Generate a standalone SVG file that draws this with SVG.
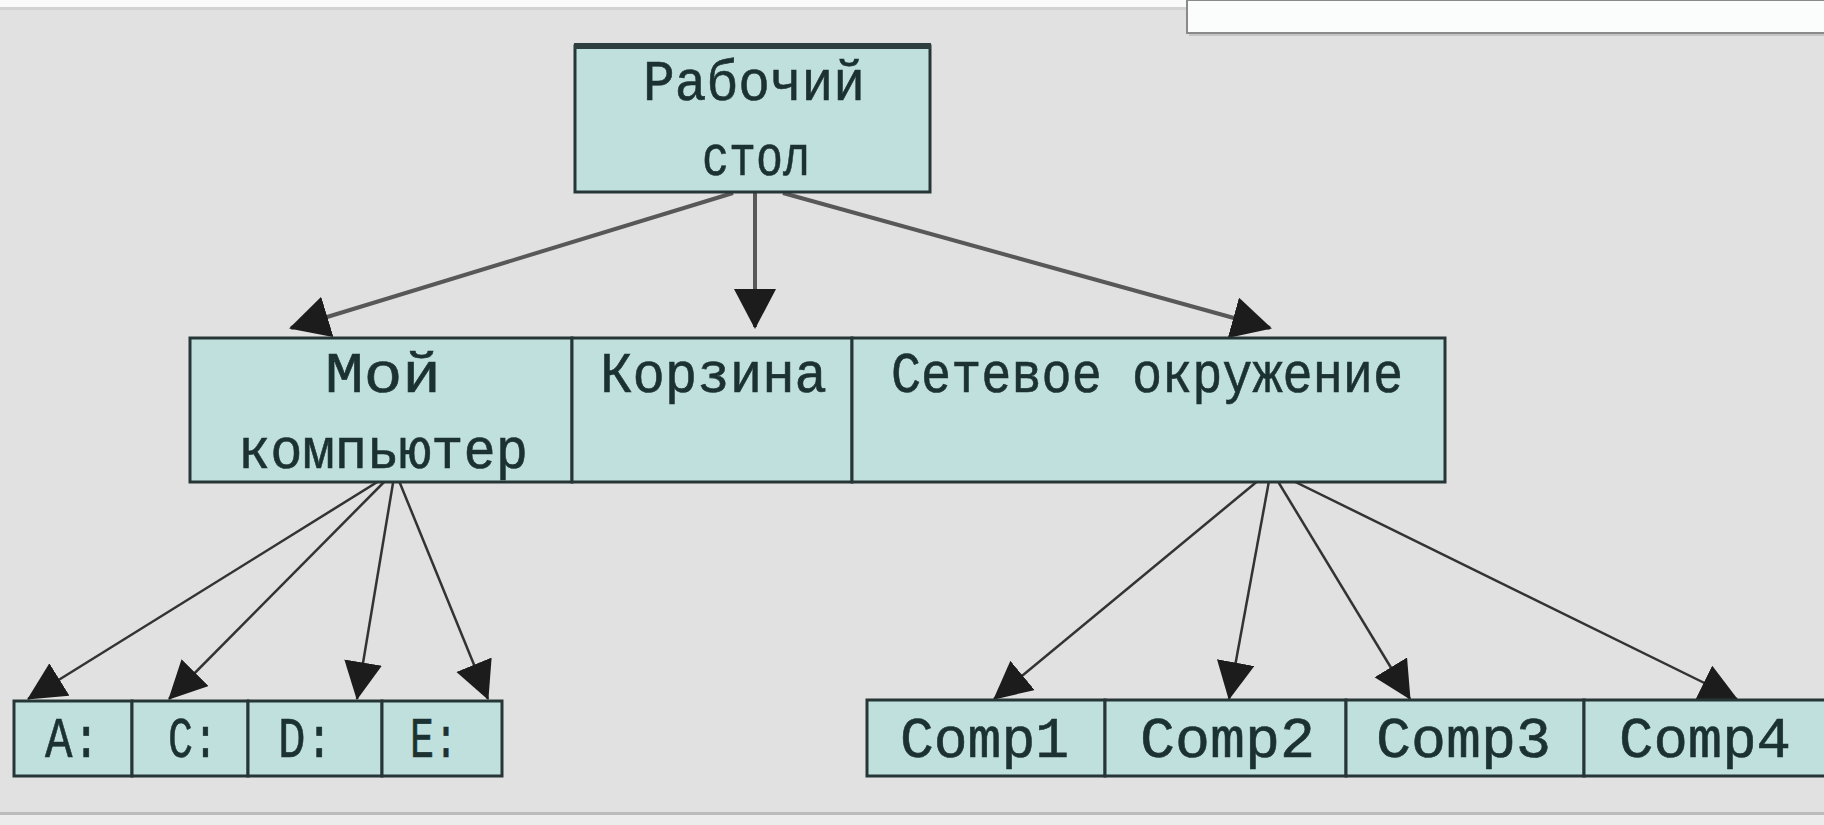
<svg xmlns="http://www.w3.org/2000/svg" width="1824" height="825" viewBox="0 0 1824 825">
<style>
.bg{fill:#e1e1e1}
.cell{fill:#c0e0de;stroke:#263636;stroke-width:3}
.t{font-family:"Liberation Mono","DejaVu Sans Mono",monospace;font-size:57px;fill:#1c3232;text-anchor:middle;stroke:#1c3232;stroke-width:0.6}
.big{stroke:#585858;stroke-width:4;fill:none}
.thin{stroke:#333;stroke-width:2.5;fill:none}
</style>
<defs>
<marker id="ah" markerUnits="userSpaceOnUse" markerWidth="42" markerHeight="44" refX="38" refY="21" orient="auto" viewBox="0 0 42 44">
<path d="M0,0 L40,21 L0,42 z" fill="#1c1c1c"/>
</marker>
<marker id="ahs" markerUnits="userSpaceOnUse" markerWidth="40" markerHeight="40" refX="37" refY="19" orient="auto" viewBox="0 0 40 40">
<path d="M0,0 L38,19 L0,38 z" fill="#1c1c1c"/>
</marker>
</defs>
<rect class="bg" x="0" y="0" width="1824" height="825"/>
<rect x="0" y="0" width="1824" height="7" fill="#fafafa"/>
<rect x="0" y="7" width="1824" height="3" fill="#c8c8c8" opacity="0.6"/>
<rect x="1187" y="0" width="640" height="33" fill="#fbfcfc" stroke="#8a8a8a" stroke-width="2"/>
<rect x="1189" y="34" width="640" height="2" fill="#c4c4c4"/>
<rect x="0" y="812" width="1824" height="3" fill="#bcbcbc"/>
<rect x="0" y="815" width="1824" height="10" fill="#ececec"/>

<g id="connectors">
<line class="big" x1="733" y1="193" x2="291" y2="328" marker-end="url(#ah)"/>
<line class="big" x1="755" y1="193" x2="755" y2="327" marker-end="url(#ah)"/>
<line class="big" x1="783" y1="193" x2="1270" y2="328" marker-end="url(#ah)"/>
<line class="thin" x1="395" y1="471" x2="28" y2="699" marker-end="url(#ahs)"/>
<line class="thin" x1="395" y1="471" x2="169" y2="699" marker-end="url(#ahs)"/>
<line class="thin" x1="395" y1="471" x2="357" y2="699" marker-end="url(#ahs)"/>
<line class="thin" x1="395" y1="471" x2="488" y2="699" marker-end="url(#ahs)"/>
<line class="thin" x1="1271" y1="470" x2="994" y2="699" marker-end="url(#ahs)"/>
<line class="thin" x1="1271" y1="470" x2="1229" y2="699" marker-end="url(#ahs)"/>
<line class="thin" x1="1271" y1="470" x2="1410" y2="699" marker-end="url(#ahs)"/>
<line class="thin" x1="1271" y1="470" x2="1737" y2="699" marker-end="url(#ahs)"/>
</g>

<g id="desktop">
<rect class="cell" x="575" y="46" width="355" height="146"/>
<rect x="574" y="43" width="357" height="6" fill="#2f3f3f"/>
<text class="t" x="754" y="100" textLength="222" lengthAdjust="spacingAndGlyphs">Рабочий</text>
<text class="t" x="756" y="175" textLength="108" lengthAdjust="spacingAndGlyphs">стол</text>
</g>

<g id="mycomputer">
<rect class="cell" x="190" y="338" width="382" height="144"/>
<text class="t" x="383" y="392" textLength="116" lengthAdjust="spacingAndGlyphs">Мой</text>
<text class="t" x="383" y="468" textLength="290" lengthAdjust="spacingAndGlyphs">компьютер</text>
</g>
<g id="recycle">
<rect class="cell" x="572" y="338" width="280" height="144"/>
<text class="t" x="713.5" y="392" textLength="227" lengthAdjust="spacingAndGlyphs">Корзина</text>
</g>
<g id="network">
<rect class="cell" x="852" y="338" width="593" height="144"/>
<text class="t" x="1147" y="392" textLength="512" lengthAdjust="spacingAndGlyphs">Сетевое окружение</text>
</g>

<g id="driveA">
<rect class="cell" x="14" y="701" width="118" height="75"/>
<text class="t" x="72.5" y="757" textLength="55" lengthAdjust="spacingAndGlyphs">A:</text>
</g>
<g id="driveC">
<rect class="cell" x="132" y="701" width="116" height="75"/>
<text class="t" x="193" y="757" textLength="50" lengthAdjust="spacingAndGlyphs">C:</text>
</g>
<g id="driveD">
<rect class="cell" x="248" y="701" width="134" height="75"/>
<text class="t" x="305.5" y="757" textLength="55" lengthAdjust="spacingAndGlyphs">D:</text>
</g>
<g id="driveE">
<rect class="cell" x="382" y="701" width="120" height="75"/>
<text class="t" x="434" y="757" textLength="48" lengthAdjust="spacingAndGlyphs">E:</text>
</g>

<g id="comp1">
<rect class="cell" x="867" y="700" width="238" height="76"/>
<text class="t" x="984.5" y="757" textLength="169" lengthAdjust="spacingAndGlyphs">Comp1</text>
</g>
<g id="comp2">
<rect class="cell" x="1105" y="700" width="241" height="76"/>
<text class="t" x="1227.5" y="757" textLength="175" lengthAdjust="spacingAndGlyphs">Comp2</text>
</g>
<g id="comp3">
<rect class="cell" x="1346" y="700" width="238" height="76"/>
<text class="t" x="1463.5" y="757" textLength="175" lengthAdjust="spacingAndGlyphs">Comp3</text>
</g>
<g id="comp4">
<rect class="cell" x="1584" y="700" width="245" height="76"/>
<text class="t" x="1705" y="757" textLength="172" lengthAdjust="spacingAndGlyphs">Comp4</text>
</g>
</svg>
